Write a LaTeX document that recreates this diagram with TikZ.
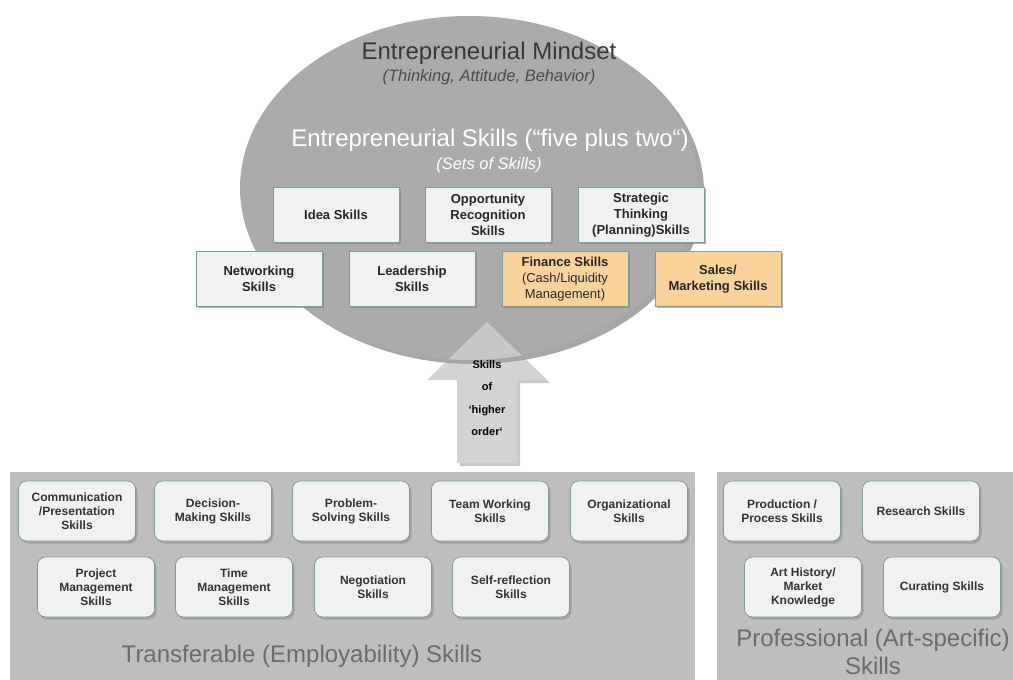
\documentclass[tikz,border=0pt]{standalone}
\usepackage{fontspec}
\setmainfont{Liberation Sans}
\usetikzlibrary{shadows}
\definecolor{ovalgray}{HTML}{ABABAB}
\definecolor{panelgray}{HTML}{BEBEBE}
\definecolor{boxfill}{HTML}{F1F1F1}
\definecolor{boxline}{HTML}{7C9C9E}
\definecolor{orangefill}{HTML}{FAD39C}
\definecolor{arrowgray}{HTML}{D3D3D3}
\definecolor{headtext}{HTML}{383838}
\definecolor{paneltext}{HTML}{6B6B6B}

\begin{document}
\begin{tikzpicture}[x=1pt, y=-1pt,
  skillbox/.style={draw=boxline, line width=1pt, fill=boxfill, minimum width=126pt, minimum height=55pt,
    align=center, font=\fontsize{13}{16}\selectfont\bfseries, text=black!85,
    drop shadow={shadow xshift=1.5pt, shadow yshift=-1.5pt, opacity=0.6}},
  moneybox/.style={skillbox, fill=orangefill},
  softbox/.style={draw=boxline, line width=0.8pt, fill=boxfill, rounded corners=8pt, minimum width=117pt,
    minimum height=60pt, align=center, font=\fontsize{12}{14}\selectfont\bfseries, text=black!80,
    drop shadow={shadow xshift=2pt, shadow yshift=-2.5pt, opacity=0.45}},
  bigtitle/.style={font=\fontsize{24}{28}\selectfont},
  subtitle/.style={font=\fontsize{16.5}{20}\selectfont\itshape}]
\useasboundingbox (0, 0) rectangle (1013, 680);
% Untere Felder
\fill [panelgray] (10, 472) rectangle (695, 680);
\fill [panelgray] (717, 472) rectangle (1013, 680);
% Pfeil
\fill [arrowgray!70!black, opacity=0.5] (490, 325) -- (550, 383) -- (520, 383) -- (520, 466) -- (460, 466) -- (460, 383) -- cycle;
\fill [arrowgray] (487, 322) -- (547, 380) -- (517, 380) -- (517, 463) -- (457, 463) -- (457, 380) -- (427, 380) -- cycle;
% Oval
\fill [gray!70] (474, 192) ellipse (230 and 172);
\fill [ovalgray] (469, 188) ellipse (229 and 172);
\begin{scope}
  \clip (469, 188) ellipse (229 and 172);
  \fill [arrowgray!70!ovalgray] (487, 322) -- (547, 380) -- (427, 380) -- cycle;
\end{scope}
%Text
\node [bigtitle, text=headtext] (mindset) at (489, 53) {Entrepreneurial Mindset};
\node [subtitle, text=headtext!90] (mindsetsub) at (489, 77) {(Thinking, Attitude, Behavior)};
\node [bigtitle, text=white] (eskills) at (490, 140) {Entrepreneurial Skills (“five plus two“)};
\node [subtitle, text=white] (eskillssub) at (489, 165) {(Sets of Skills)};
% Fünf plus zwei
\node [skillbox] (idea) at (336, 215) {Idea Skills};
\node [skillbox] (opportunity) at (488, 215) {Opportunity\\Recognition\\Skills};
\node [skillbox] (strategic) at (641, 215) {Strategic\\Thinking\\(Planning)Skills};
\node [skillbox] (networking) at (259, 279) {Networking\\Skills};
\node [skillbox] (leadership) at (412, 279) {Leadership\\Skills};
\node [moneybox] (finance) at (565, 279) {Finance Skills\\\mdseries(Cash/Liquidity\\\mdseries Management)};
\node [moneybox] (sales) at (718, 279) {Sales/\\Marketing Skills};
\node [font=\fontsize{11}{22.5}\selectfont\bfseries, align=center] (higher) at (487, 398) {Skills\\of\\‘higher\\order‘};
% Transferable
\node [softbox] (communication) at (77, 511) {Communication\\/Presentation\\Skills};
\node [softbox] (decision) at (213, 511) {Decision-\\Making Skills};
\node [softbox] (problem) at (351, 511) {Problem-\\Solving Skills};
\node [softbox] (team) at (490, 511) {Team Working\\Skills};
\node [softbox] (organizational) at (629, 511) {Organizational\\Skills};
\node [softbox] (project) at (96, 587) {Project\\Management\\Skills};
\node [softbox] (time) at (234, 587) {Time\\Management\\Skills};
\node [softbox] (negotiation) at (373, 587) {Negotiation\\Skills};
\node [softbox] (selfreflection) at (511, 587) {Self-reflection\\Skills};
\node [bigtitle, text=paneltext] (transferable) at (302, 656) {Transferable (Employability) Skills};
% Professional
\node [softbox] (production) at (782, 511) {Production /\\Process Skills};
\node [softbox] (research) at (921, 511) {Research Skills};
\node [softbox] (arthistory) at (803, 587) {Art History/\\Market\\Knowledge};
\node [softbox] (curating) at (942, 587) {Curating Skills};
\node [bigtitle, text=paneltext, align=center] (professional) at (873, 652) {Professional (Art-specific)\\Skills};
\end{tikzpicture}
\end{document}
